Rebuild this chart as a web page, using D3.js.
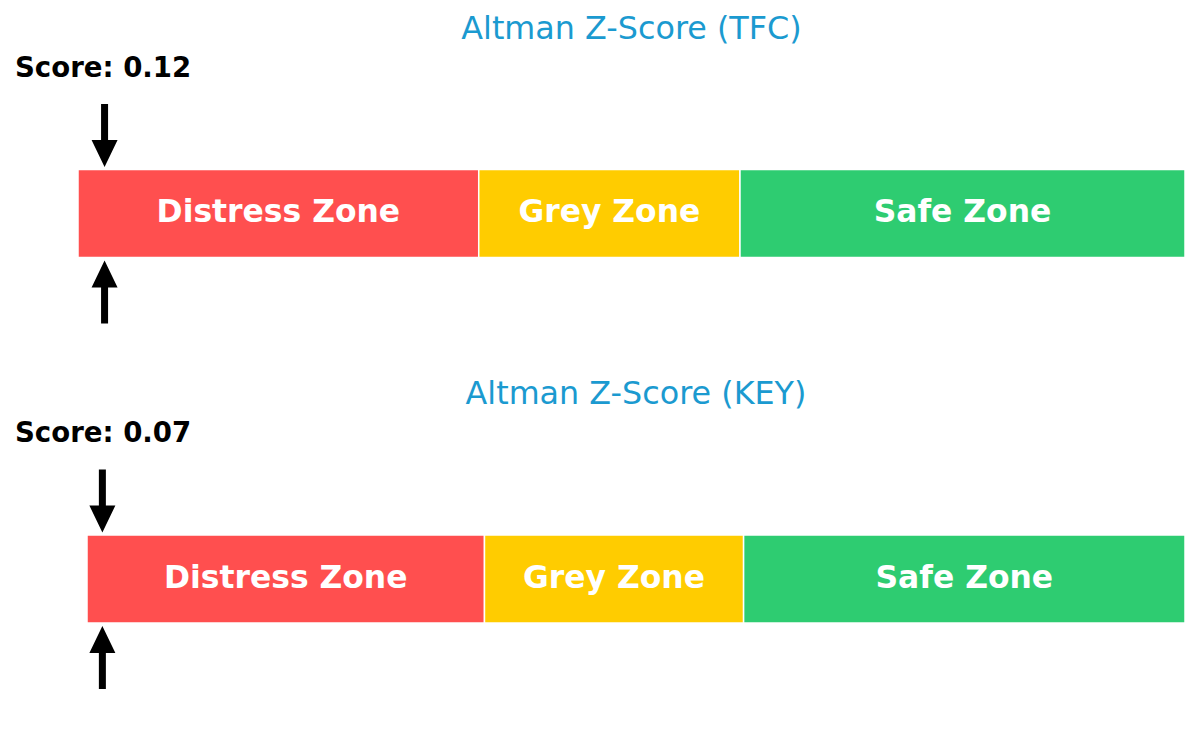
<!DOCTYPE html>
<html>
<head>
<meta charset="utf-8">
<script src="https://cdn.jsdelivr.net/npm/d3@7"></script>
<style>
  body { margin: 0; background: #fff; }
  svg text { font-family: "DejaVu Sans", sans-serif; }
</style>
</head>
<body>
<div class="container"></div>
<script>
"use strict";

// chart data
const titles = ["Altman Z-Score (TFC)", "Altman Z-Score (KEY)"];
const scores = [0.12, 0.07];
const zoneNames = ["Distress Zone", "Grey Zone", "Safe Zone"];
const zoneStarts = [0, 1.81, 2.99];
const zoneEnds = [1.81, 2.99, 5];
const zoneColors = ["#ff4f4f", "#ffcc00", "#2ecc71"];

const makePlot = () => {
  const width = 1200;
  const height = 731;
  // each panel has its own axes box (like the original layout)
  const panelBoxes = [
    { left: 78, right: 1185, top: 169.5 },
    { left: 87, right: 1185, top: 535 }
  ];
  const barHeight = 88;

  const svg = d3
    .select(".container")
    .append("svg")
    .attr("width", width)
    .attr("height", height);

  titles.forEach((title, p) => {
    const box = panelBoxes[p];
    const x = d3.scaleLinear().domain([0, 5]).range([box.left, box.right]);
    const g = svg.append("g").attr("class", "panel");

    const zones = zoneNames.map((name, i) => ({
      name: name,
      start: zoneStarts[i],
      end: zoneEnds[i],
      color: zoneColors[i]
    }));

    //zone bars
    g.selectAll("rect.zone")
      .data(zones)
      .enter()
      .append("rect")
      .attr("class", "zone")
      .attr("x", (d) => x(d.start))
      .attr("y", box.top)
      .attr("width", (d) => x(d.end) - x(d.start))
      .attr("height", barHeight)
      .style("fill", (d) => d.color)
      .style("stroke", "#fff")
      .style("stroke-width", 1.5);

    //zone labels
    g.selectAll("text.zone-label")
      .data(zones)
      .enter()
      .append("text")
      .attr("class", "zone-label")
      .attr("x", (d) => (x(d.start) + x(d.end)) / 2)
      .attr("y", box.top + barHeight / 2)
      .attr("dy", "0.28em")
      .style("text-anchor", "middle")
      .style("font-size", "31.4px")
      .style("font-weight", "bold")
      .style("fill", "#fff")
      .text((d) => d.name);

    //title
    g.append("text")
      .attr("x", (box.left + box.right) / 2)
      .attr("y", box.top - 131)
      .style("text-anchor", "middle")
      .style("font-size", "31.8px")
      .style("fill", "#1b9ad0")
      .text(title);

    //score label
    g.append("text")
      .attr("x", 15)
      .attr("y", box.top - 93)
      .style("font-size", "27.6px")
      .style("font-weight", "bold")
      .style("fill", "#000")
      .text("Score: " + scores[p].toFixed(2));

    //arrows above and below the bar
    const sx = x(scores[p]);
    const shaft = 7;
    const headW = 26;
    const headL = 27;
    const arrowLen = 63;

    // down arrow, tip touching bar top
    const tipTop = box.top - 2.5;
    g.append("path")
      .attr("class", "arrow")
      .attr(
        "d",
        `M${sx - shaft / 2},${tipTop - arrowLen} L${sx + shaft / 2},${tipTop - arrowLen}
         L${sx + shaft / 2},${tipTop - headL} L${sx + headW / 2},${tipTop - headL}
         L${sx},${tipTop} L${sx - headW / 2},${tipTop - headL}
         L${sx - shaft / 2},${tipTop - headL} Z`
      )
      .style("fill", "#000");

    // up arrow, tip touching bar bottom
    const tipBot = box.top + barHeight + 3;
    g.append("path")
      .attr("class", "arrow")
      .attr(
        "d",
        `M${sx - shaft / 2},${tipBot + arrowLen} L${sx + shaft / 2},${tipBot + arrowLen}
         L${sx + shaft / 2},${tipBot + headL} L${sx + headW / 2},${tipBot + headL}
         L${sx},${tipBot} L${sx - headW / 2},${tipBot + headL}
         L${sx - shaft / 2},${tipBot + headL} Z`
      )
      .style("fill", "#000");
  });
};

makePlot();
</script>
</body>
</html>
